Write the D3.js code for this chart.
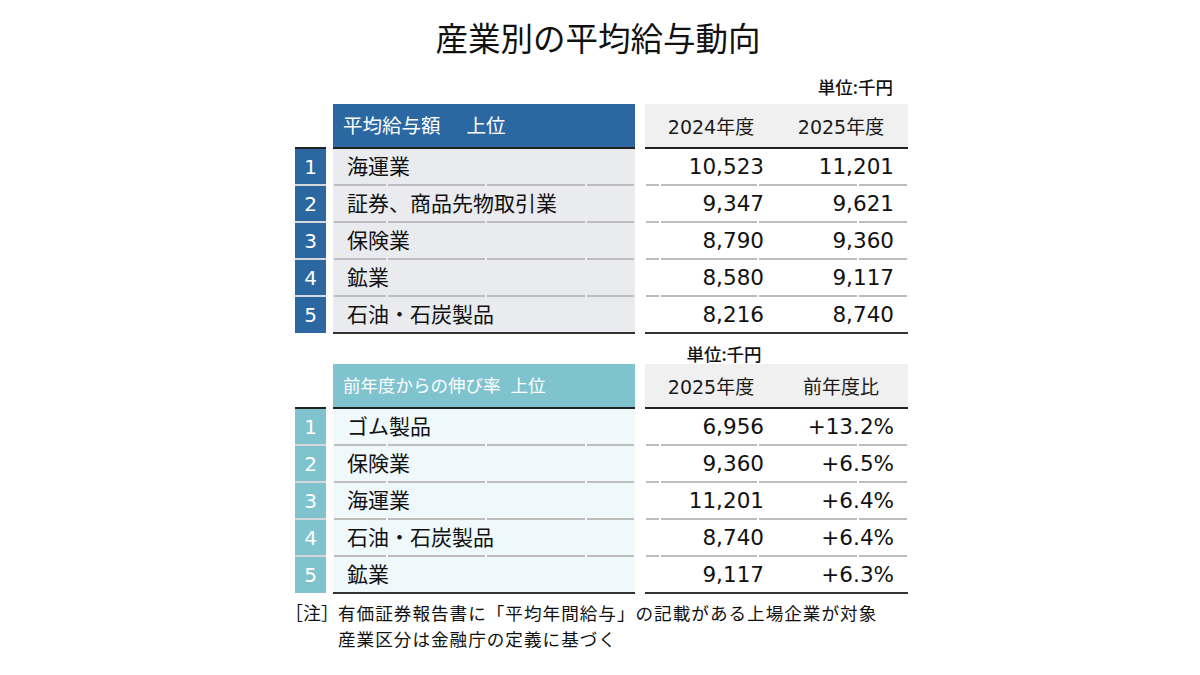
<!DOCTYPE html>
<html lang="ja">
<head>
<meta charset="utf-8">
<script src="https://cdn.jsdelivr.net/npm/d3@7/dist/d3.min.js"></script>
<style>
  body { margin: 0; background: #fff; }
  svg { display: block; }
</style>
</head>
<body>
<svg id="chart"></svg>
<script>
// 産業別の平均給与動向 - 2つのランキング表

const titleText = '産業別の平均給与動向';
const unitLabel = '単位:千円';
const rankLabels = ['1', '2', '3', '4', '5'];

const salaryHeader = ['平均給与額', '上位'];
const salaryColumns = ['2024年度', '2025年度'];
const salaryIndustries = ['海運業', '証券、商品先物取引業', '保険業', '鉱業', '石油・石炭製品'];
const salary2024 = [10523, 9347, 8790, 8580, 8216];
const salary2025 = [11201, 9621, 9360, 9117, 8740];

const growthHeader = ['前年度からの伸び率', '上位'];
const growthColumns = ['2025年度', '前年度比'];
const growthIndustries = ['ゴム製品', '保険業', '海運業', '石油・石炭製品', '鉱業'];
const growthSalary2025 = [6956, 9360, 11201, 8740, 9117];
const growthRates = [13.2, 6.5, 6.4, 6.4, 6.3];

const noteMark = '［注］';
const noteLines = [
  '有価証券報告書に「平均年間給与」の記載がある上場企業が対象',
  '産業区分は金融庁の定義に基づく'
];

const JP_FONT = "'Noto Sans CJK JP', 'Noto Sans', sans-serif";
const NUM_FONT = "'DejaVu Sans', 'Noto Sans CJK JP', sans-serif";

const fmtSalary = d3.format(',');
const fmtRate = v => d3.format('+.1f')(v) + '%';

const svg = d3.select('#chart')
  .attr('width', 1200)
  .attr('height', 675);

// columns (x layout)
const rankX = [295, 326];
const labelX = [333, 635];
const valueX = [645, 908];
const labelBreaks = [333, 387, 486, 586, 635];
const valueBreaks = [645, 660, 758, 858, 908];
const colCenter = d3.scaleOrdinal().domain([0, 1]).range([711, 841]);
const colRight = d3.scaleOrdinal().domain([0, 1]).range([764, 894]);

svg.append('text')
  .attr('x', 598)
  .attr('y', 51)
  .attr('text-anchor', 'middle')
  .attr('font-family', JP_FONT)
  .attr('font-size', '32.5px')
  .attr('fill', '#111')
  .text(titleText);

function drawTable(opts) {
  const g = svg.append('g');
  const headerTop = opts.top;
  const headerBottom = opts.top + 44;

  const yScale = d3.scaleBand()
    .domain(d3.range(opts.names.length))
    .range([headerBottom, headerBottom + 37 * opts.names.length]);
  const bw = yScale.bandwidth();
  const tableBottom = yScale.range()[1];

  // header cells
  g.append('rect')
    .attr('x', labelX[0]).attr('y', headerTop)
    .attr('width', labelX[1] - labelX[0]).attr('height', headerBottom - headerTop)
    .attr('fill', opts.headerFill);
  g.append('rect')
    .attr('x', valueX[0]).attr('y', headerTop)
    .attr('width', valueX[1] - valueX[0]).attr('height', headerBottom - headerTop)
    .attr('fill', '#f0f0f0');

  const ht = g.append('text')
    .attr('x', labelX[0] + 10)
    .attr('y', (headerTop + headerBottom) / 2)
    .attr('dy', '0.36em')
    .attr('font-family', JP_FONT)
    .attr('font-size', opts.headerSize)
    .attr('fill', '#fff');
  ht.append('tspan').text(opts.header[0]);
  ht.append('tspan').attr('dx', opts.headerGap).text(opts.header[1]);

  g.selectAll('.col-head')
    .data(opts.columns)
    .enter()
    .append('text')
    .attr('class', 'col-head')
    .attr('x', (d, i) => colCenter(i))
    .attr('y', (headerTop + headerBottom) / 2 + 1)
    .attr('dy', '0.36em')
    .attr('text-anchor', 'middle')
    .attr('font-family', NUM_FONT)
    .attr('font-size', '19px')
    .attr('fill', '#1a1a1a')
    .text(d => d);

  // label background + rank cells
  g.selectAll('.label-bg')
    .data(opts.names)
    .enter()
    .append('rect')
    .attr('class', 'label-bg')
    .attr('x', labelX[0])
    .attr('y', (d, i) => yScale(i))
    .attr('width', labelX[1] - labelX[0])
    .attr('height', bw)
    .attr('fill', opts.labelFill);

  g.selectAll('.rank-bg')
    .data(rankLabels)
    .enter()
    .append('rect')
    .attr('class', 'rank-bg')
    .attr('x', rankX[0])
    .attr('y', (d, i) => yScale(i))
    .attr('width', rankX[1] - rankX[0])
    .attr('height', bw)
    .attr('fill', opts.rankFill);

  g.selectAll('.rank-txt')
    .data(rankLabels)
    .enter()
    .append('text')
    .attr('class', 'rank-txt')
    .attr('x', (rankX[0] + rankX[1]) / 2)
    .attr('y', (d, i) => yScale(i) + bw / 2)
    .attr('dy', '0.36em')
    .attr('text-anchor', 'middle')
    .attr('font-family', NUM_FONT)
    .attr('font-size', '20px')
    .attr('fill', '#fff')
    .text(d => d);

  // row separators (small notches at cell borders)
  const seps = d3.range(1, opts.names.length);
  const segs = [];
  seps.forEach(i => {
    [labelBreaks, valueBreaks].forEach(br => {
      for (let k = 0; k < br.length - 1; k++) {
        segs.push({ x0: br[k] + 1, x1: br[k + 1] - 1, y: yScale(i) });
      }
    });
  });
  g.selectAll('.sep')
    .data(segs)
    .enter()
    .append('line')
    .attr('class', 'sep')
    .attr('x1', d => d.x0).attr('x2', d => d.x1)
    .attr('y1', d => d.y).attr('y2', d => d.y)
    .attr('stroke', '#bdbdbd')
    .attr('stroke-width', 2);

  g.selectAll('.rank-sep')
    .data(seps)
    .enter()
    .append('line')
    .attr('class', 'rank-sep')
    .attr('x1', rankX[0]).attr('x2', rankX[1])
    .attr('y1', i => yScale(i)).attr('y2', i => yScale(i))
    .attr('stroke', '#d4d8dc')
    .attr('stroke-width', 2);

  // dark rules under header and at bottom
  [rankX, labelX, valueX].forEach(xs => {
    g.append('line')
      .attr('x1', xs[0]).attr('x2', xs[1])
      .attr('y1', headerBottom).attr('y2', headerBottom)
      .attr('stroke', '#222').attr('stroke-width', 2);
  });
  [labelX, valueX].forEach(xs => {
    g.append('line')
      .attr('x1', xs[0]).attr('x2', xs[1])
      .attr('y1', tableBottom).attr('y2', tableBottom)
      .attr('stroke', '#333').attr('stroke-width', 2);
  });

  // industry names
  g.selectAll('.name')
    .data(opts.names)
    .enter()
    .append('text')
    .attr('class', 'name')
    .attr('x', labelX[0] + 14)
    .attr('y', (d, i) => yScale(i) + bw / 2)
    .attr('dy', '0.36em')
    .attr('font-family', JP_FONT)
    .attr('font-size', '21px')
    .attr('fill', '#111')
    .text(d => d);

  // value columns
  opts.values.forEach((col, c) => {
    g.selectAll('.val-' + c)
      .data(col)
      .enter()
      .append('text')
      .attr('class', 'val-' + c)
      .attr('x', colRight(c))
      .attr('y', (d, i) => yScale(i) + bw / 2)
      .attr('dy', '0.36em')
      .attr('text-anchor', 'end')
      .attr('font-family', NUM_FONT)
      .attr('font-size', '21.5px')
      .attr('fill', '#111')
      .text(d => d);
  });
}

// units
svg.append('text')
  .attr('x', 893).attr('y', 88).attr('dy', '0.36em')
  .attr('text-anchor', 'end')
  .attr('font-family', JP_FONT)
  .attr('font-size', '17.5px')
  .attr('font-weight', 500)
  .attr('fill', '#111')
  .text(unitLabel);

svg.append('text')
  .attr('x', 724).attr('y', 355).attr('dy', '0.36em')
  .attr('text-anchor', 'middle')
  .attr('font-family', JP_FONT)
  .attr('font-size', '17.5px')
  .attr('font-weight', 500)
  .attr('fill', '#111')
  .text(unitLabel);

drawTable({
  top: 104,
  header: salaryHeader,
  headerSize: '19.5px',
  headerGap: 26,
  headerFill: '#2b68a2',
  rankFill: '#2b68a2',
  labelFill: '#e9ebee',
  columns: salaryColumns,
  names: salaryIndustries,
  values: [salary2024.map(fmtSalary), salary2025.map(fmtSalary)]
});

drawTable({
  top: 364,
  header: growthHeader,
  headerSize: '17.5px',
  headerGap: 10,
  headerFill: '#7fc3cf',
  rankFill: '#7fc3cf',
  labelFill: '#eff8fa',
  columns: growthColumns,
  names: growthIndustries,
  values: [growthSalary2025.map(fmtSalary), growthRates.map(fmtRate)]
});

// note
svg.append('text')
  .attr('x', 285).attr('y', 614).attr('dy', '0.36em')
  .attr('font-family', JP_FONT)
  .attr('font-size', '18px')
  .attr('fill', '#111')
  .text(noteMark);

svg.selectAll('.note')
  .data(noteLines)
  .enter()
  .append('text')
  .attr('class', 'note')
  .attr('x', 338)
  .attr('y', (d, i) => 614 + i * 26)
  .attr('dy', '0.36em')
  .attr('font-family', JP_FONT)
  .attr('font-size', '17.6px')
  .attr('letter-spacing', '1px')
  .attr('fill', '#111')
  .text(d => d);
</script>
</body>
</html>
